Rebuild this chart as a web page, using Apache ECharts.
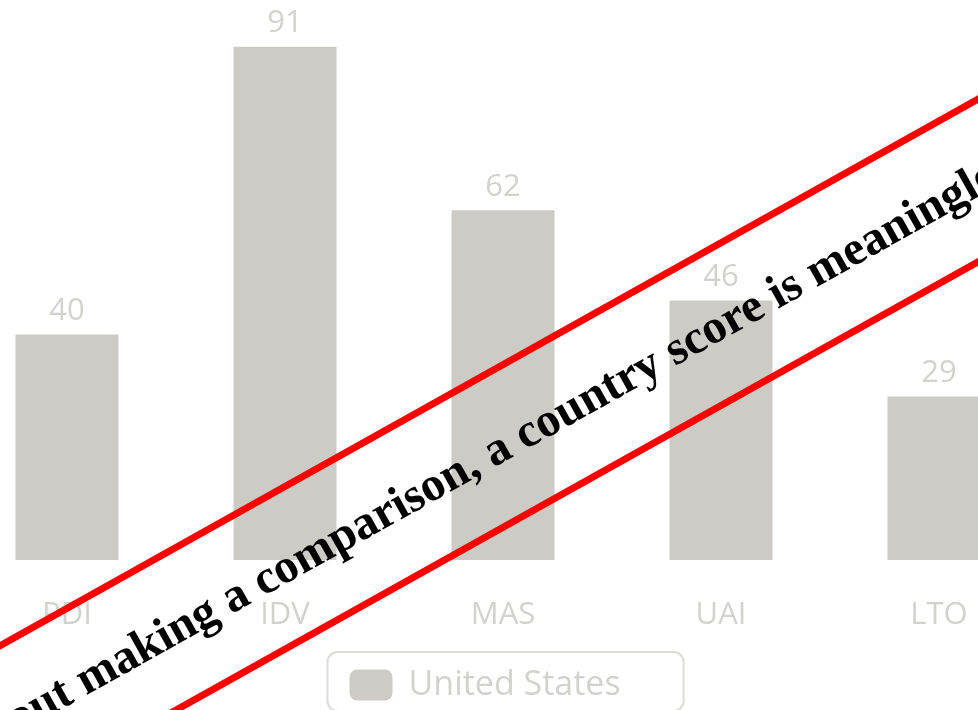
<!DOCTYPE html>
<html>
<head>
<meta charset="utf-8">
<script src="https://cdn.jsdelivr.net/npm/echarts@6/dist/echarts.min.js"></script>
<style>
  html, body { margin: 0; padding: 0; background: #ffffff; overflow: hidden; width: 978px; height: 710px; position: relative; }
  /* the chart is wider than the page, so the outer bars run past both edges */
  #chart { position: absolute; left: -42.5px; top: -4px; width: 1090px; height: 714px; }
</style>
</head>
<body>
<div id="chart"></div>
<script>
// Hofstede dimension scores
const dimensions = ['PDI', 'IDV', 'MAS', 'UAI', 'LTO'];
const usScores = [40, 91, 62, 46, 29];
const seriesName = 'United States';
const bannerText = 'Without making a comparison, a country score is meaningless';

const chart = echarts.init(document.getElementById('chart'), null, { renderer: 'canvas' });

const softGrey = '#d2d2ce';
const barGrey = '#cccbc6';
const tilt = 29.2 * Math.PI / 180;
const bannerRed = '#ff0000';

chart.setOption({
  animation: false,
  grid: { left: 0, right: 0, top: 0, bottom: 150 },
  xAxis: {
    type: 'category',
    data: dimensions,
    axisLine: { show: false },
    axisTick: { show: false },
    axisLabel: { color: softGrey, fontSize: 31, fontFamily: 'Open Sans', margin: 40 }
  },
  yAxis: { type: 'value', min: 0, max: 100, show: false },
  legend: {
    left: 369.5,
    top: 656,
    selectedMode: false,
    padding: [16, 63, 9, 22],
    borderColor: '#dcdcd8',
    borderWidth: 2,
    borderRadius: 10,
    itemWidth: 43,
    itemHeight: 31,
    textStyle: { color: softGrey, fontSize: 34, fontFamily: 'Open Sans', lineHeight: 31, padding: [0, 0, 0, 11] },
    data: [seriesName]
  },
  series: [{
    type: 'bar',
    name: seriesName,
    data: usScores,
    barWidth: 103,
    itemStyle: { color: barGrey },
    label: {
      show: true,
      position: 'top',
      distance: 8,
      color: softGrey,
      fontSize: 31,
      fontFamily: 'Open Sans'
    }
  }],
  // diagonal banner across the chart
  graphic: [{
    type: 'group',
    x: 531.5,
    y: 457.5,
    rotation: tilt,
    silent: true,
    z: 100,
    children: [
      { type: 'line', z: 100, shape: { x1: -1400, y1: -71, x2: 1400, y2: -71 }, style: { stroke: bannerRed, lineWidth: 7 } },
      { type: 'line', z: 100, shape: { x1: -1400, y1: 71, x2: 1400, y2: 71 }, style: { stroke: bannerRed, lineWidth: 7 } },
      {
        type: 'text',
        z: 101,
        x: -19,
        y: 2,
        style: {
          text: bannerText,
          fontFamily: 'Liberation Serif',
          fontWeight: 'bold',
          fontSize: 48,
          fill: '#000000',
          align: 'center',
          verticalAlign: 'middle'
        }
      }
    ]
  }]
});
</script>
</body>
</html>
